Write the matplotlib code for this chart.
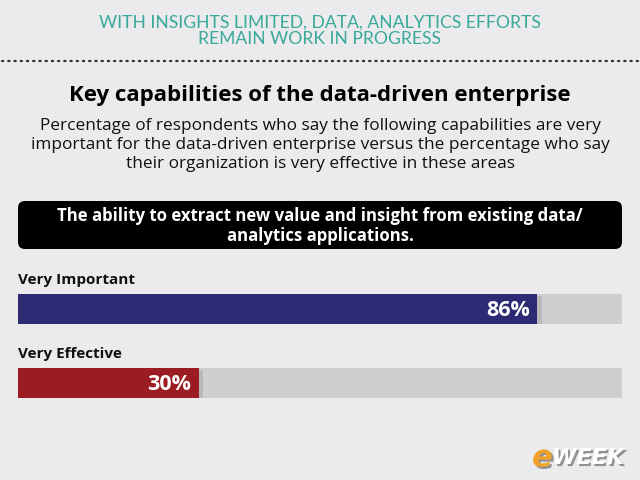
import matplotlib.pyplot as plt
from matplotlib.patches import FancyBboxPatch
import matplotlib.patheffects as pe

header = "WITH INSIGHTS LIMITED, DATA, ANALYTICS EFFORTS\nREMAIN WORK IN PROGRESS"
title = "Key capabilities of the data-driven enterprise"
subtitle = ("Percentage of respondents who say the following capabilities are very\n"
            "important for the data-driven enterprise versus the percentage who say\n"
            "their organization is very effective in these areas")
question = "The ability to extract new value and insight from existing data/\nanalytics applications."

labels = ["Very Important", "Very Effective"]
values = [86, 30]
colors = ["#2b2a73", "#9b1c22"]

bg = "#ebebed"
track = "#cfcfd1"

fig = plt.figure(figsize=(6.4, 4.8), dpi=100, facecolor=bg)

# full-figure axes in pixel units for the text layout
lay = fig.add_axes([0, 0, 1, 1])
lay.set_xlim(0, 640)
lay.set_ylim(480, 0)
lay.axis("off")

lay.text(320, 31, header, ha="center", va="center", color="#3aa99b",
         fontsize=12.6, family="Lato", linespacing=1.0)
lay.plot([2, 638], [61, 61], color="#333333", lw=1.6, ls=(0, (0.6, 2.2)),
         dash_capstyle="round")

lay.text(320, 96, title, ha="center", va="center", color="black",
         fontsize=16, fontweight="bold", family="Open Sans")
lay.text(320, 145, subtitle, ha="center", va="center", color="#111111",
         fontsize=12.4, family="Open Sans", linespacing=1.22)

box = FancyBboxPatch((18, 201), 604, 48, boxstyle="round,pad=0,rounding_size=7",
                     facecolor="black", edgecolor="none")
lay.add_patch(box)
lay.text(320, 226, question, ha="center", va="center", color="white",
         fontsize=12.1, fontweight="bold", family="Open Sans", linespacing=1.08)

# bars
bar_top = [294, 368]
bar_h = [30, 30]
for lab, t in zip(labels, bar_top):
    lay.text(18, t - 14, lab, ha="left", va="center", fontsize=11,
             fontweight="bold", family="Open Sans", color="#111111")

ax = fig.add_axes([18 / 640, 0, 604 / 640, 1])
ax.set_xlim(0, 100)
ax.set_ylim(480, 0)
ax.axis("off")
ax.patch.set_alpha(0)
for v, c, t, h in zip(values, colors, bar_top, bar_h):
    ax.barh(t + h / 2, 100, height=h, color=track, edgecolor="none")
    # soft shadow at the bar end
    ax.barh(t + h / 2 + 1, 0.7, left=v, height=h - 2, color="#b9b9bc",
            edgecolor="none")
    ax.barh(t + h / 2, v, height=h, color=c, edgecolor="none")
    ax.text(v - 1.3, t + h / 2 + 1, f"{v}%", ha="right", va="center",
            color="white", fontsize=15.5, fontweight="bold", family="Open Sans")

# eWEEK logo
shadow = [pe.withSimplePatchShadow(offset=(1.5, -1.5), shadow_rgbFace="#555555", alpha=0.6)]
lay.text(532, 458, "e", ha="left", va="center", fontsize=22, fontweight="bold",
         style="italic", color="#f0a32a", family="DejaVu Sans", path_effects=shadow)
lay.text(552, 458, "WEEK", ha="left", va="center", fontsize=16, fontweight="bold",
         style="italic", color="white", family="DejaVu Sans", path_effects=shadow)

fig.savefig("out.png", dpi=100, facecolor=bg)
